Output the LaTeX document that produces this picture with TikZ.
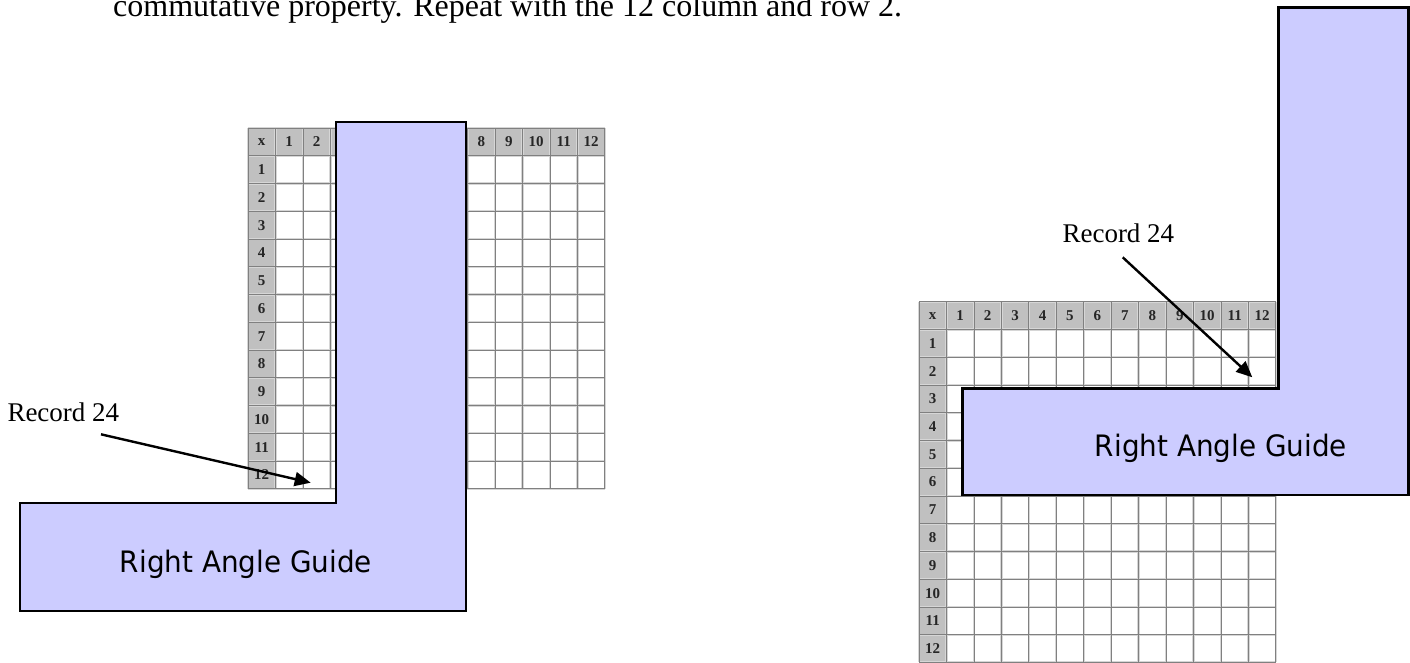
\documentclass[tikz,border=0pt]{standalone}
\usepackage{fontspec}
\setmainfont{Liberation Serif}
\newfontfamily\guidefont{DejaVu Sans}
\usetikzlibrary{arrows.meta}
\definecolor{guidefill}{HTML}{CCCCFF}
\definecolor{headfill}{HTML}{C0C0C0}
\definecolor{gridline}{HTML}{808080}
\definecolor{gridhalo}{HTML}{D6D6D6}
\def\cellw{27.45}
\def\cellh{27.75}
\newcommand\multgrid[3]{%
  \begin{scope}[shift={(#1,#2)}]
    \fill[headfill] (0,0) rectangle ({13*\cellw},\cellh);
    \fill[headfill] (0,0) rectangle (\cellw,{13*\cellh});
    \foreach \i in {0,...,13} {
      \draw[gridhalo, line width=2.4pt] ({\i*\cellw},0) -- ({\i*\cellw},{13*\cellh});
      \draw[gridhalo, line width=2.4pt] (0,{\i*\cellh}) -- ({13*\cellw},{\i*\cellh});
    }
    \foreach \i in {0,...,13} {
      \draw[gridline, line width=0.8pt] ({\i*\cellw},0) -- ({\i*\cellw},{13*\cellh});
      \draw[gridline, line width=0.8pt] (0,{\i*\cellh}) -- ({13*\cellw},{\i*\cellh});
    }
    \node[headnum] (#3-c0) at ({0.5*\cellw},{0.5*\cellh}) {x};
    \foreach \i in {1,...,12} {
      \node[headnum] (#3-c\i) at ({(\i+0.5)*\cellw},{0.5*\cellh}) {\i};
      \node[headnum] (#3-r\i) at ({0.5*\cellw},{(\i+0.5)*\cellh}) {\i};
    }
  \end{scope}}
\begin{document}
\begin{tikzpicture}[x=1pt,y=-1pt,
  guide/.style={fill=guidefill,draw=black,line width=2.8pt,line join=miter},
  guidetext/.style={font=\guidefont\fontsize{29.5}{32}\selectfont,anchor=base,xscale=0.944,inner sep=0pt},
  recordtext/.style={font=\fontsize{27}{30}\selectfont,anchor=base west,inner sep=0pt},
  toptext/.style={font=\fontsize{32}{36}\selectfont,anchor=base west,inner sep=0pt},
  pointer/.style={line width=2.4pt,-{Triangle[length=16pt,width=14pt]}},
  headnum/.style={font=\bfseries\fontsize{15}{16}\selectfont,text=black!85,inner sep=0pt},
]
\useasboundingbox (0,0) rectangle (1410,662);
\clip (0,0) rectangle (1410,662);
\fill[white] (0,0) rectangle (1410,662);

% heading line (cut by the top edge, as in the reference)
\node[toptext] (heading) at (113,16) {commutative property. Repeat with the 12 column and row 2.};

% left table and guide
\multgrid{248}{128}{lt}
\draw[guide] (20,503) -- (336,503) -- (336,122) -- (466,122) -- (466,611) -- (20,611) -- cycle;
\node[guidetext] (lguide) at (246,572) {Right Angle Guide};
\node[recordtext] (lrec) at (7.3,421.7) {Record 24};
\coordinate (la-s) at (101,434.3);
\coordinate (la-e) at (310.7,482.7);
\draw[pointer] (la-s) -- (la-e);

% right table and guide
\multgrid{919}{301.7}{rt}
\draw[guide] (962.7,388.3) -- (1278.3,388.3) -- (1278.3,7.3) -- (1408.3,7.3) -- (1408.3,495) -- (962.7,495) -- cycle;
\node[guidetext] (rguide) at (1221,456.7) {Right Angle Guide};
\node[recordtext] (rrec) at (1062.3,242.7) {Record 24};
\coordinate (ra-s) at (1122.7,257.3);
\coordinate (ra-e) at (1252.3,377.3);
\draw[pointer] (ra-s) -- (ra-e);
\end{tikzpicture}
\end{document}
